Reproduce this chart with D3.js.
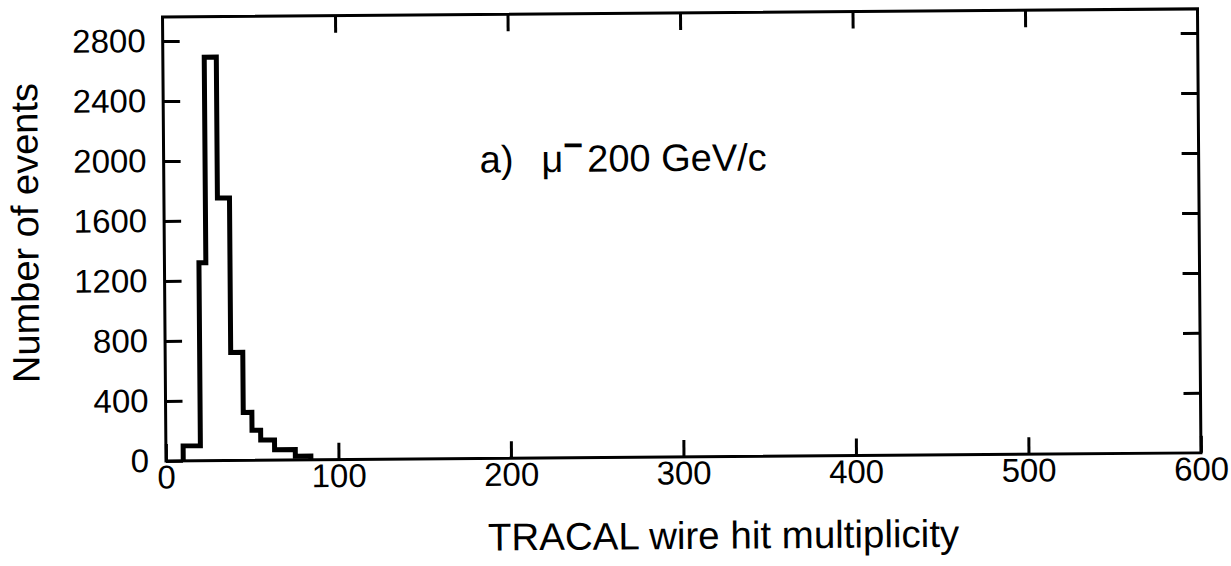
<!DOCTYPE html>
<html><head><meta charset="utf-8">
<script src="https://cdn.jsdelivr.net/npm/d3@7"></script>
<style>
body{margin:0;background:#fff}
svg{display:block}
text{font-family:"Liberation Sans",Arial,Helvetica,sans-serif;fill:#000}
</style>
</head><body>
<svg id="chart" width="1231" height="566"></svg>
<script>
// ---- data ----
const binEdges  = [10, 20, 24, 31, 38, 45, 50, 55, 63, 75, 84];
const binCounts = [100, 1320, 2690, 1750, 720, 320, 200, 135, 70, 25];
const xTickValues = [0, 100, 200, 300, 400, 500, 600];
const yTickValues = [0, 400, 800, 1200, 1600, 2000, 2400, 2800];
const xTitle = "TRACAL wire hit multiplicity";
const yTitle = "Number of events";
const annotationLabel = "a)";
const annotationParticle = "μ";
const annotationCharge = "−";
const annotationBeam = "200 GeV/c";

// ---- layout ----
const L = 166, R = 1201, T = 17, B = 461;
const tick = 17;
const svg = d3.select("#chart");
const g = svg.append("g").attr("transform", `rotate(-0.45, ${L}, ${B})`);

const x = d3.scaleLinear().domain([0, 600]).range([L, R]);
const y = d3.scaleLinear().domain([0, 2960]).range([B, T]);

// histogram step path
const pts = [[binEdges[0], 0]];
binCounts.forEach((c, i) => { pts.push([binEdges[i], c]); pts.push([binEdges[i + 1], c]); });
pts.push([binEdges[binEdges.length - 1], 0]);
g.append("path")
  .attr("d", d3.line().x(d => x(d[0])).y(d => y(d[1]))(pts))
  .attr("fill", "none").attr("stroke", "#000").attr("stroke-width", 5)
  .attr("stroke-linejoin", "miter");

// axes
function styleAxis(sel) {
  sel.select(".domain").remove();
  sel.selectAll(".tick line").attr("stroke", "#000").attr("stroke-width", 3);
  sel.selectAll("text").attr("font-size", 33).attr("fill", "#000");
}
g.append("g").attr("transform", `translate(0,${B})`)
  .call(d3.axisBottom(x).tickValues(xTickValues).tickSize(-tick).tickPadding(4).tickFormat(d3.format("d")))
  .call(styleAxis);
g.append("g").attr("transform", `translate(0,${T})`)
  .call(d3.axisTop(x).tickValues(xTickValues.slice(1, -1)).tickSize(-tick).tickFormat(""))
  .call(styleAxis);
g.append("g").attr("transform", `translate(${L},0)`)
  .call(d3.axisLeft(y).tickValues(yTickValues).tickSize(-tick).tickPadding(17).tickFormat(d3.format("d")))
  .call(styleAxis);
g.append("g").attr("transform", `translate(${R},0)`)
  .call(d3.axisRight(y).tickValues(yTickValues.slice(1)).tickSize(-tick).tickFormat(""))
  .call(styleAxis);

// frame
g.append("rect").attr("x", L).attr("y", T).attr("width", R - L).attr("height", B - T)
  .attr("fill", "none").attr("stroke", "#000").attr("stroke-width", 3);

// titles
g.append("text").attr("x", 723).attr("y", 553).attr("text-anchor", "middle")
  .attr("font-size", 38.5).text(xTitle);
g.append("text").attr("transform", "translate(40,232) rotate(-90)").attr("text-anchor", "middle")
  .attr("font-size", 38).text(yTitle);

// annotation
const ann = g.append("text").attr("x", 482).attr("y", 175).attr("font-size", 38);
ann.append("tspan").text(annotationLabel);
ann.append("tspan").attr("dx", 28).text(annotationParticle);
ann.append("tspan").attr("dy", -15).attr("font-weight", "bold").attr("font-size", 34).text(annotationCharge);
ann.append("tspan").attr("dy", 15).attr("dx", 4).text(annotationBeam);
</script>
</body></html>
